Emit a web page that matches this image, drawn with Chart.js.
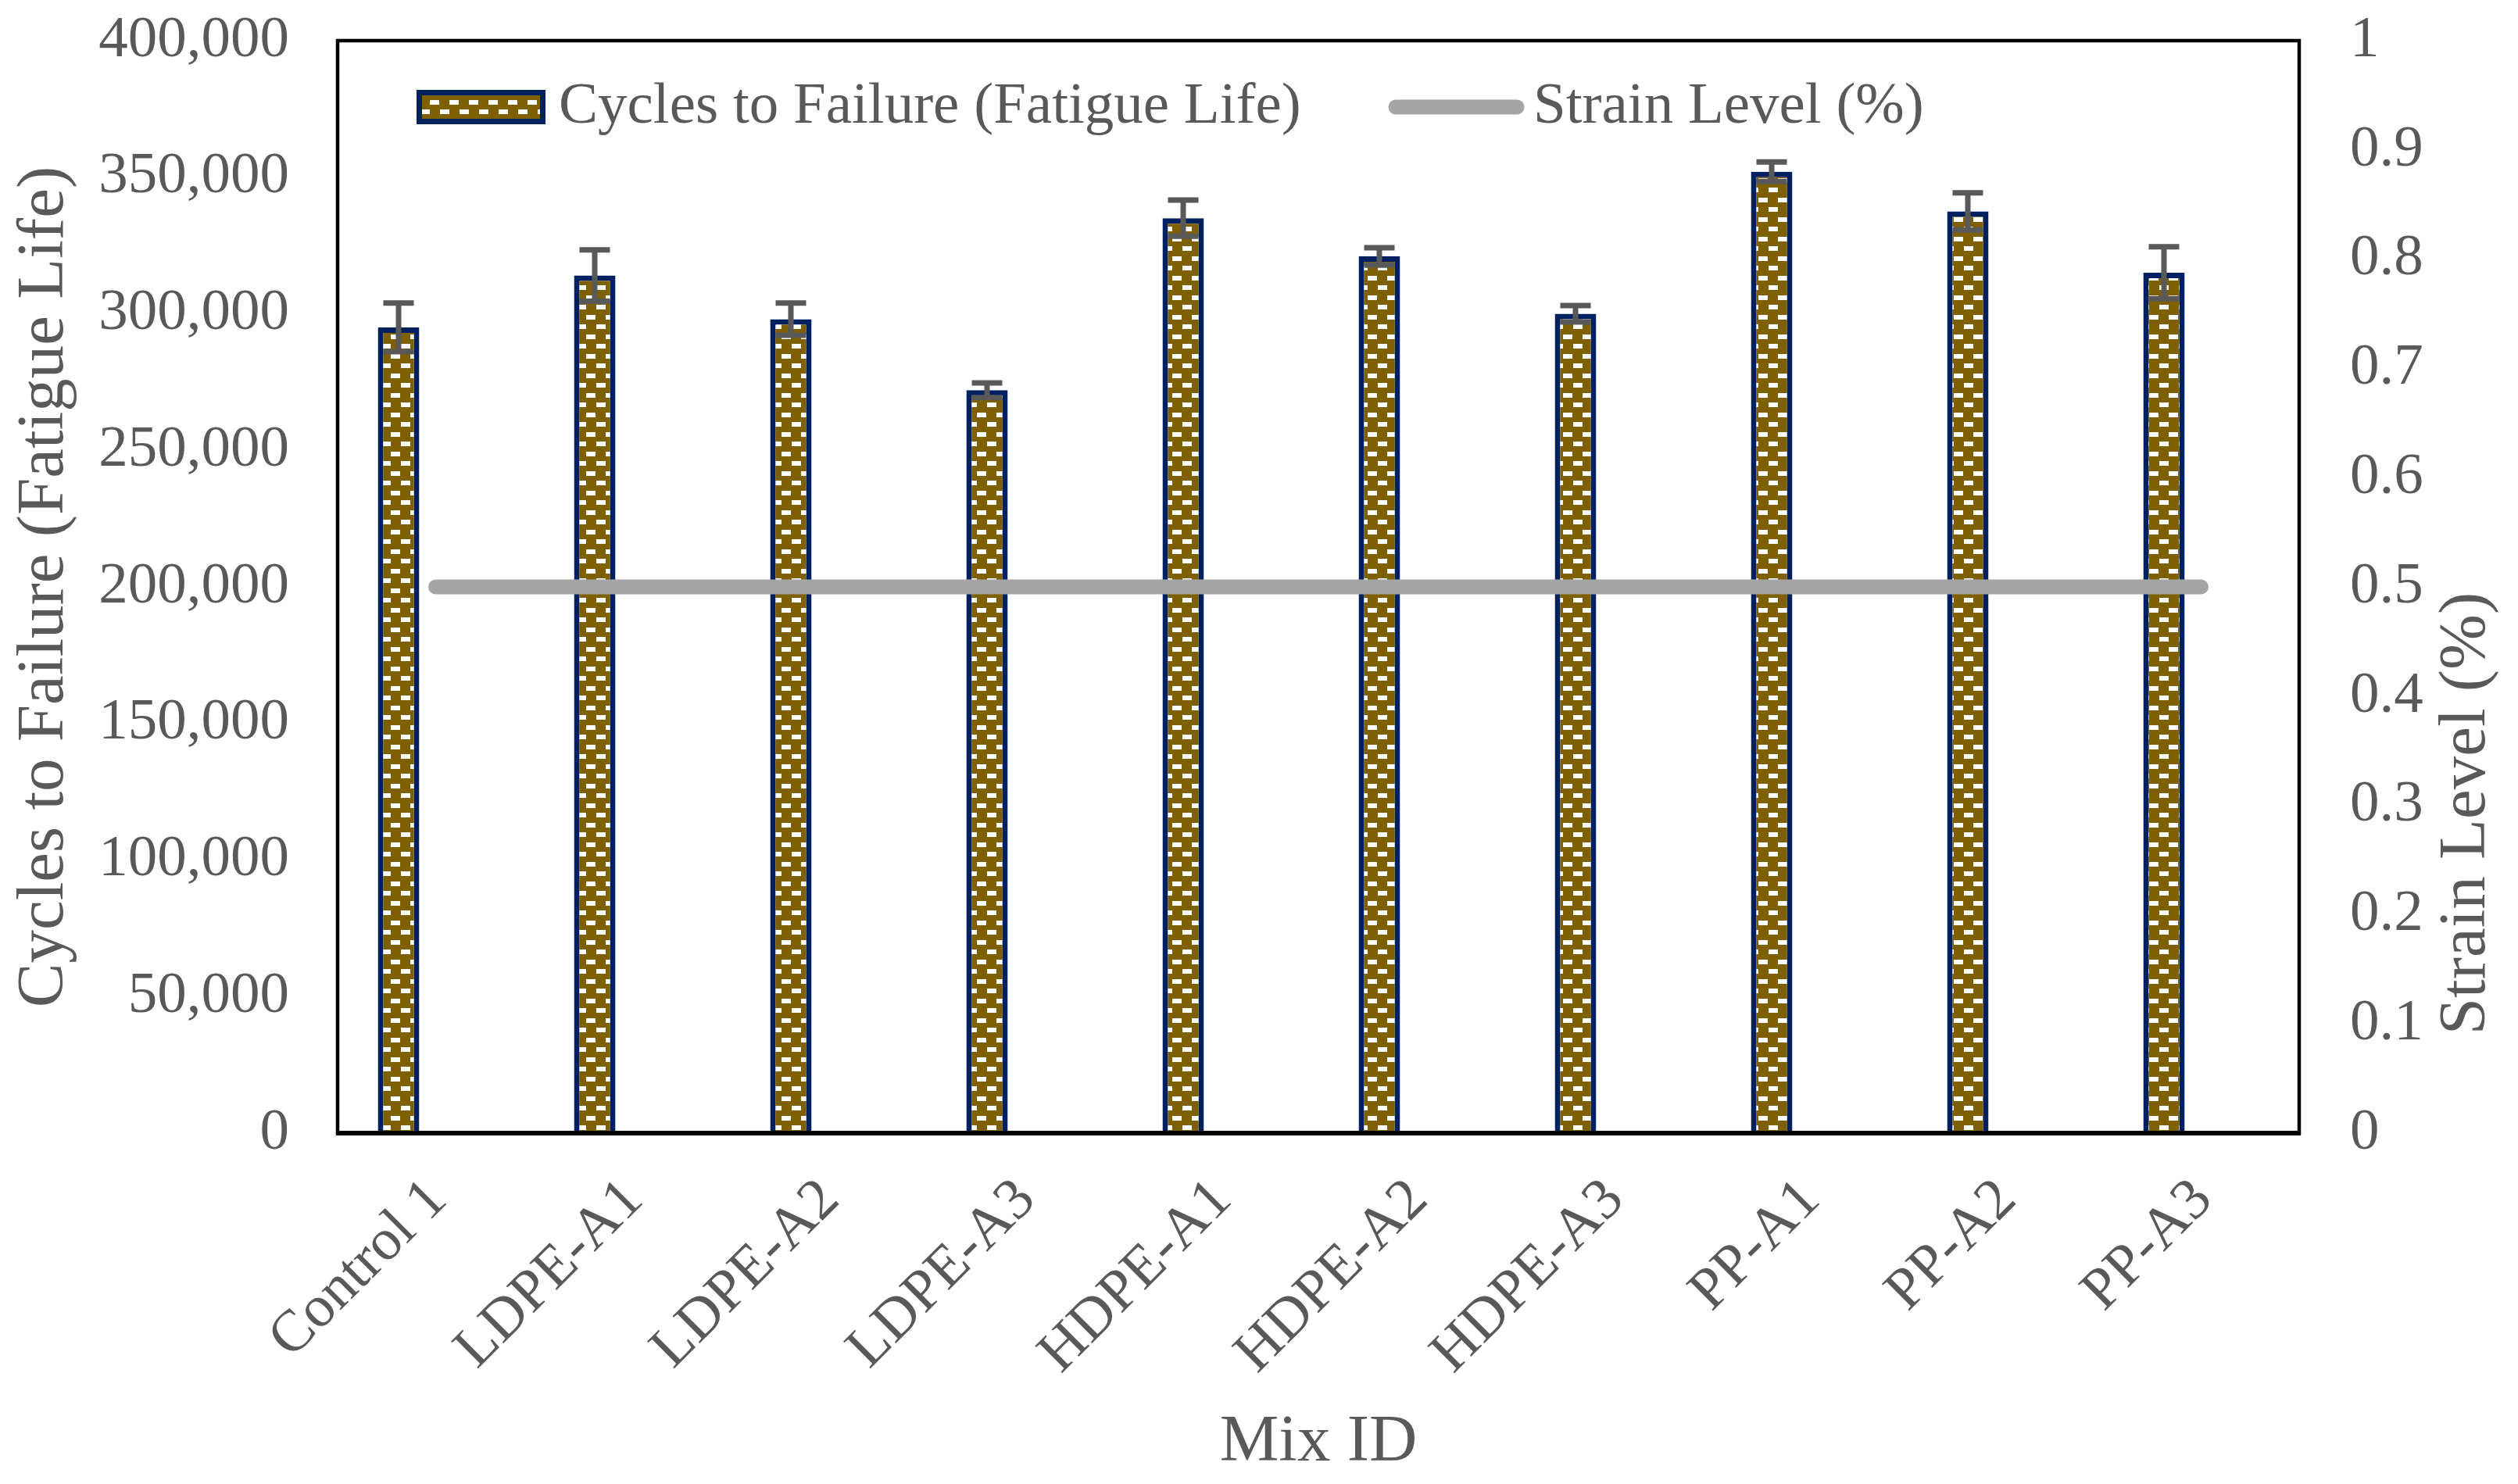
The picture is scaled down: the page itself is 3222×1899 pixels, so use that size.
<!DOCTYPE html>
<html>
<head>
<meta charset="utf-8">
<title>Cycles to Failure by Mix ID</title>
<script src="https://cdn.jsdelivr.net/npm/chart.js@4.4.1/dist/chart.umd.min.js"></script>
<style>
  html, body { margin: 0; padding: 0; background: #ffffff; }
  canvas { display: block; }
</style>
</head>
<body>
<canvas id="fatigueChart" width="3222" height="1899"></canvas>
<script>
// values
const mixIds = ['Control 1', 'LDPE-A1', 'LDPE-A2', 'LDPE-A3', 'HDPE-A1', 'HDPE-A2', 'HDPE-A3', 'PP-A1', 'PP-A2', 'PP-A3'];
const cyclesToFailure = [295000, 314000, 298000, 272000, 335000, 321000, 300000, 352000, 337500, 315000];
const cyclesError = [8900, 9400, 5900, 2700, 6600, 3200, 3000, 3600, 6800, 9500];
const strainLevel = [0.5, 0.5, 0.5, 0.5, 0.5, 0.5, 0.5, 0.5, 0.5, 0.5];
// empty second bar series, Excel keeps a slot for it so the bars sit left of centre
const spacerSeries = [null, null, null, null, null, null, null, null, null, null];

const barLabel = 'Cycles to Failure (Fatigue Life)';
const lineLabel = 'Strain Level (%)';
const leftTitle = 'Cycles to Failure (Fatigue Life)';
const rightTitle = 'Strain Level (%)';
const xTitle = 'Mix ID';

const textColor = '#595959';
const fontFamily = "'Liberation Serif', 'Times New Roman', serif";

function brickPattern() {
  const tile = document.createElement('canvas');
  tile.width = 25;
  tile.height = 25;
  const t = tile.getContext('2d');
  t.fillStyle = '#7F6000';
  t.fillRect(0, 0, 25, 25);
  t.fillStyle = '#FFFFFF';
  t.fillRect(0, 3, 12, 6);
  t.fillRect(13, 15, 12, 6);
  return t.createPattern(tile, 'repeat');
}
const barFill = brickPattern();

// fixed axis boxes so the plot area lands where the original has it
function fixWidth(w) {
  return function (scale) {
    scale.width = w;
    scale.paddingTop = 0;
    scale.paddingBottom = 0;
  };
}

// error bars on the fatigue life bars
const errorBars = {
  id: 'errorBars',
  afterDatasetsDraw(chart) {
    const ctx = chart.ctx;
    const yScale = chart.scales.y;
    const meta = chart.getDatasetMeta(1);
    ctx.save();
    ctx.strokeStyle = textColor;
    ctx.lineWidth = 7;
    ctx.lineCap = 'butt';
    meta.data.forEach(function (bar, i) {
      const top = yScale.getPixelForValue(cyclesToFailure[i] + cyclesError[i]);
      const bottom = yScale.getPixelForValue(cyclesToFailure[i] - cyclesError[i]);
      ctx.beginPath();
      ctx.moveTo(bar.x, top);
      ctx.lineTo(bar.x, bottom);
      ctx.moveTo(bar.x - 19.5, top);
      ctx.lineTo(bar.x + 19.5, top);
      ctx.moveTo(bar.x - 19.5, bottom);
      ctx.lineTo(bar.x + 19.5, bottom);
      ctx.stroke();
    });
    ctx.restore();
  }
};

// plot frame, legend inside the plot, right axis title reading upwards
const frameAndLegend = {
  id: 'frameAndLegend',
  afterDraw(chart) {
    const ctx = chart.ctx;
    const area = chart.chartArea;
    ctx.save();

    ctx.strokeStyle = '#000000';
    ctx.lineWidth = 4.5;
    ctx.strokeRect(area.left, area.top, area.right - area.left, area.bottom - area.top);
    ctx.lineWidth = 6;
    ctx.beginPath();
    ctx.moveTo(area.left - 2, area.bottom);
    ctx.lineTo(area.right + 2, area.bottom);
    ctx.stroke();

    const legendY = 137;
    ctx.fillStyle = barFill;
    ctx.fillRect(533, 115, 165, 44);
    ctx.strokeStyle = '#002060';
    ctx.lineWidth = 7;
    ctx.strokeRect(536.5, 118.5, 158, 37);

    ctx.strokeStyle = '#A5A5A5';
    ctx.lineWidth = 19;
    ctx.lineCap = 'round';
    ctx.beginPath();
    ctx.moveTo(1786, legendY);
    ctx.lineTo(1941, legendY);
    ctx.stroke();

    ctx.fillStyle = textColor;
    ctx.font = '75px ' + fontFamily;
    ctx.textBaseline = 'middle';
    ctx.textAlign = 'left';
    ctx.fillText(chart.data.datasets[1].label, 715, legendY);
    ctx.fillText(chart.data.datasets[0].label, 1962, legendY);

    ctx.font = '85px ' + fontFamily;
    ctx.textAlign = 'center';
    ctx.translate(3157, 1041);
    ctx.rotate(-Math.PI / 2);
    ctx.fillText(rightTitle, 0, 0);

    ctx.restore();
  }
};

new Chart(document.getElementById('fatigueChart'), {
  data: {
    labels: mixIds,
    datasets: [{
      type: 'line',
      label: lineLabel,
      data: strainLevel,
      yAxisID: 'y1',
      borderColor: '#A5A5A5',
      borderWidth: 19,
      borderCapStyle: 'round',
      pointRadius: 0,
      tension: 0,
      fill: false,
      order: 1
    }, {
      type: 'bar',
      label: barLabel,
      data: cyclesToFailure,
      yAxisID: 'y',
      backgroundColor: barFill,
      borderColor: '#002060',
      borderWidth: 7,
      borderSkipped: 'start',
      categoryPercentage: 0.757,
      barPercentage: 0.558,
      order: 2
    }, {
      type: 'bar',
      label: '',
      data: spacerSeries,
      yAxisID: 'y',
      backgroundColor: 'rgba(0,0,0,0)',
      borderWidth: 0,
      categoryPercentage: 0.757,
      barPercentage: 0.558,
      order: 3
    }]
  },
  options: {
    responsive: false,
    devicePixelRatio: 1,
    animation: false,
    events: [],
    layout: { padding: { top: 52, left: 0, right: 0, bottom: 0 } },
    plugins: {
      legend: { display: false },
      tooltip: { enabled: false }
    },
    scales: {
      x: {
        afterFit(scale) { scale.height = 449; },
        grid: { display: false, drawTicks: false },
        border: { display: false },
        ticks: {
          autoSkip: false,
          minRotation: 45,
          maxRotation: 45,
          padding: 42,
          labelOffset: 3,
          color: textColor,
          font: { family: fontFamily, size: 75 }
        },
        title: {
          display: true,
          text: xTitle,
          color: textColor,
          font: { family: fontFamily, size: 85 },
          padding: { top: 0, bottom: 1 }
        }
      },
      y: {
        position: 'left',
        min: 0,
        max: 400000,
        afterFit: fixWidth(432),
        grid: { display: false, drawTicks: false },
        border: { display: false },
        ticks: {
          stepSize: 50000,
          padding: 62,
          color: textColor,
          font: { family: fontFamily, size: 75 },
          callback: function (value) { return value.toLocaleString('en-US'); }
        },
        title: {
          display: true,
          text: leftTitle,
          color: textColor,
          font: { family: fontFamily, size: 85 },
          padding: { top: 7, bottom: 0 }
        }
      },
      y1: {
        position: 'right',
        min: 0,
        max: 1,
        afterFit: fixWidth(280),
        grid: { display: false, drawTicks: false },
        border: { display: false },
        ticks: {
          stepSize: 0.1,
          padding: 65,
          color: textColor,
          font: { family: fontFamily, size: 75 },
          callback: function (value) { return String(Math.round(value * 10) / 10); }
        }
      }
    }
  },
  plugins: [errorBars, frameAndLegend]
});
</script>
</body>
</html>
